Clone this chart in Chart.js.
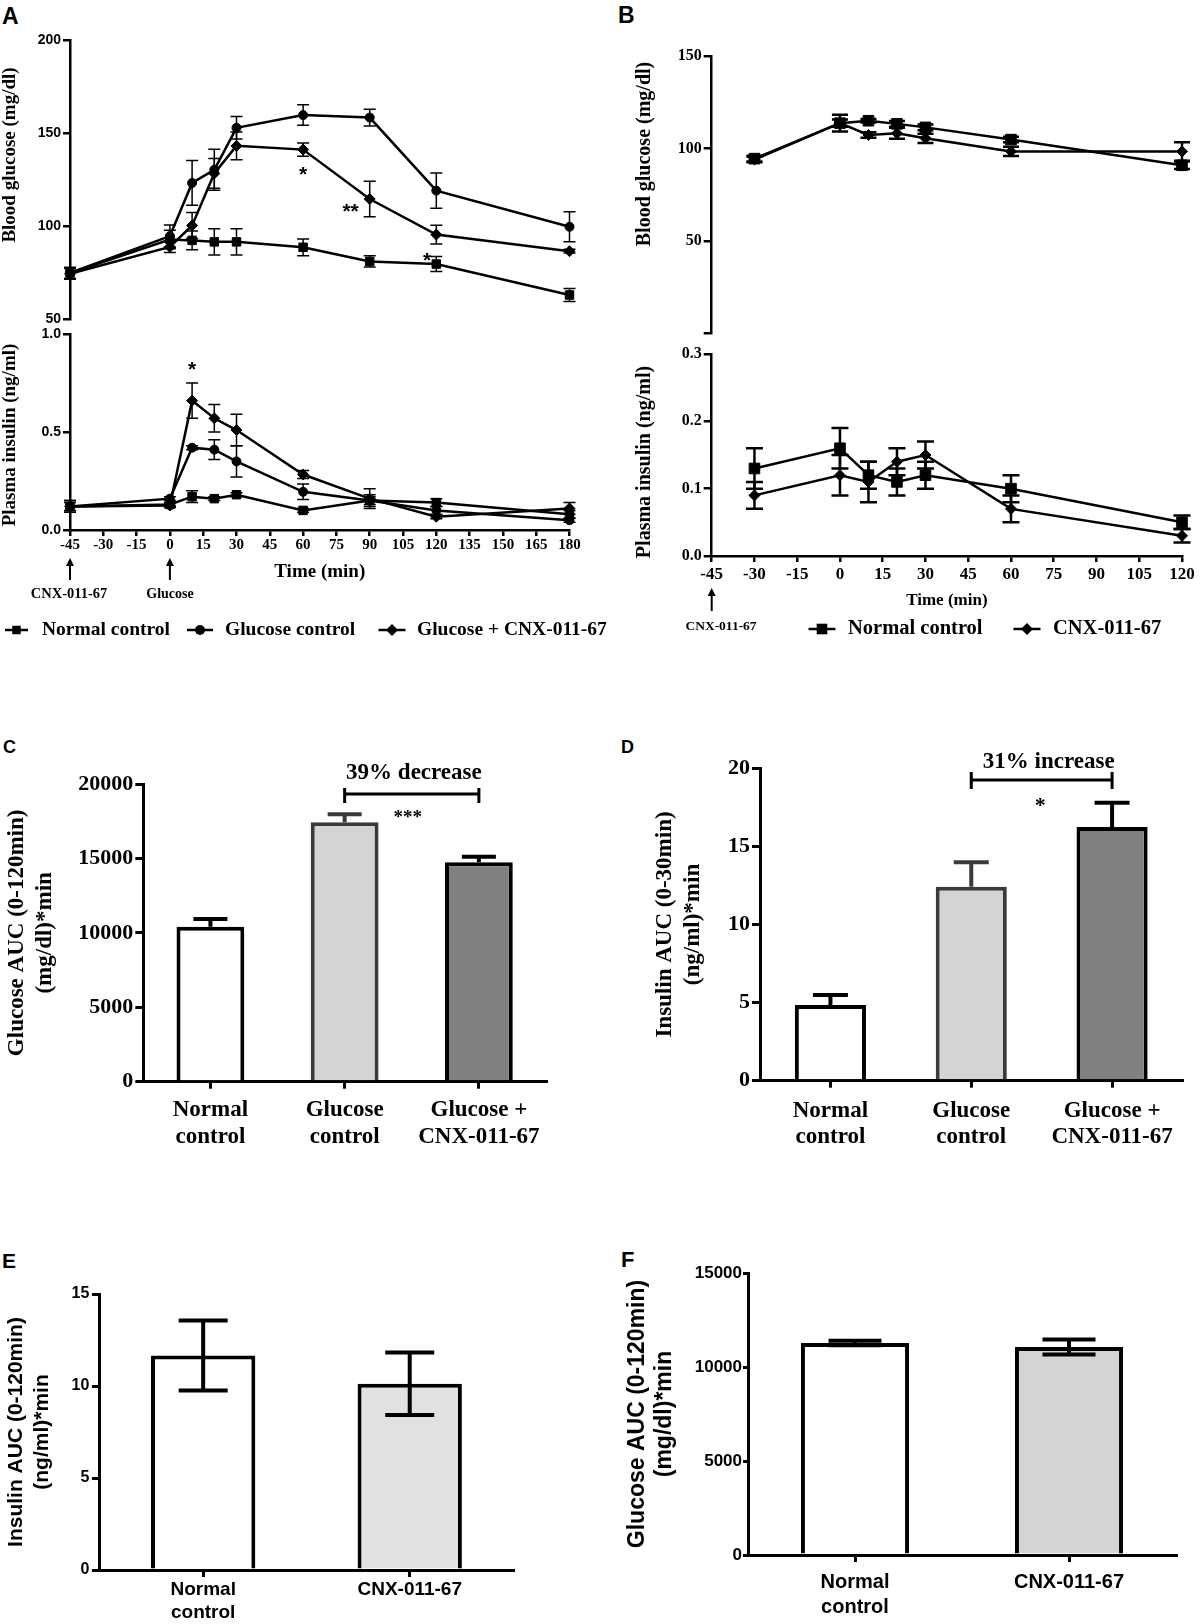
<!DOCTYPE html>
<html>
<head>
<meta charset="utf-8">
<title>CNX-011-67 glucose tolerance</title>
<script src="https://cdn.jsdelivr.net/npm/chart.js@4.4.1/dist/chart.umd.min.js"></script>
<style>
  body { margin: 0; background: #fff; }
  #page { position: relative; width: 1200px; height: 1624px; overflow: hidden; background: #fff; }
  #page canvas { position: absolute; }
  .pl { position: absolute; font-family: "Liberation Sans", Arial, sans-serif; font-weight: bold; line-height: 1; color: #000; }
</style>
</head>
<body>
<div id="page">
  <div class="pl" style="left:2px;top:5px;font-size:23px">A</div>
  <div class="pl" style="left:618px;top:4px;font-size:23px">B</div>
  <div class="pl" style="left:3px;top:738px;font-size:18px">C</div>
  <div class="pl" style="left:621px;top:738px;font-size:18px">D</div>
  <div class="pl" style="left:2px;top:1250px;font-size:21px">E</div>
  <div class="pl" style="left:621px;top:1249px;font-size:22px">F</div>
</div>
<script>
// ---- panel A: glucose challenge, three groups ----
const timesA = [-45, 0, 10, 20, 30, 60, 90, 120, 180];
const gluNormalA = [75, 93, 92.5, 91.7, 91.7, 88.8, 81.2, 79.8, 63.2];
const gluNormalErrA = [3, 5, 5, 7, 7, 4.5, 3, 4, 3.5];
const gluControlA = [75, 94.8, 123.3, 130.4, 152.9, 159.7, 158.4, 119.2, 99.8];
const gluControlErrA = [3, 6, 12, 11, 6, 5.5, 4.5, 9.5, 8];
const gluCnxA = [74.6, 89, 100.5, 128.4, 143.2, 141.2, 114.7, 95.6, 86.7];
const gluCnxErrA = [3, 3, 7, 8, 7.5, 3.5, 9.5, 5, 1];
const insNormalA = [0.12, 0.13, 0.17, 0.16, 0.18, 0.10, 0.15, 0.14, 0.08];
const insNormalErrA = [0.03, 0.01, 0.03, 0.01, 0.01, 0.01, 0.02, 0.02, 0.02];
const insControlA = [0.12, 0.16, 0.42, 0.41, 0.35, 0.195, 0.15, 0.10, 0.05];
const insControlErrA = [0.03, 0.01, 0.01, 0.05, 0.08, 0.04, 0.03, 0.02, 0.01];
const insCnxA = [0.12, 0.125, 0.66, 0.57, 0.51, 0.283, 0.16, 0.068, 0.11];
const insCnxErrA = [0.02, 0.01, 0.09, 0.07, 0.08, 0.02, 0.05, 0.01, 0.03];

// ---- panel B: no glucose load ----
const timesB = [-30, 0, 10, 20, 30, 60, 120];
const gluNormalB = [94.5, 113.7, 115, 113.3, 111.4, 104.8, 90.9];
const gluNormalErrB = [1.5, 2, 1, 1.5, 1.5, 1.5, 2];
const gluCnxB = [94, 113.7, 107.3, 108.2, 105.5, 98.4, 98.4];
const gluCnxErrB = [1.5, 4.5, 1.5, 3, 2.5, 2.5, 5];
const insNormalB = [0.13, 0.16, 0.12, 0.11, 0.12, 0.10, 0.05];
const insNormalErrB = [0.03, 0.03, 0.02, 0.02, 0.02, 0.02, 0.01];
const insCnxB = [0.09, 0.12, 0.11, 0.14, 0.15, 0.07, 0.03];
const insCnxErrB = [0.02, 0.03, 0.03, 0.02, 0.02, 0.02, 0.01];

// ---- panels C-F: AUC bars ----
const groupsCD = [['Normal', 'control'], ['Glucose', 'control'], ['Glucose +', 'CNX-011-67']];
const gluAucC = [10414, 17424, 14736];
const gluAucErrC = [520, 540, 380];
const insAucD = [4.85, 12.42, 16.24];
const insAucErrD = [0.64, 1.56, 1.56];
const groupsEF = [['Normal', 'control'], 'CNX-011-67'];
const insAucE = [11.66, 10.12];
const insAucErrE = [1.9, 1.7];
const gluAucF = [11281, 11068];
const gluAucErrF = [120, 400];

const SERIF = '"Liberation Serif", "Times New Roman", serif';
const SANS = '"Liberation Sans", Arial, sans-serif';

Chart.defaults.animation = false;
Chart.defaults.color = '#000';
Chart.defaults.plugins.legend.display = false;
Chart.defaults.plugins.tooltip.enabled = false;

function addCanvas(left, top, w, h) {
  const c = document.createElement('canvas');
  c.width = w; c.height = h;
  c.style.left = left + 'px';
  c.style.top = top + 'px';
  document.getElementById('page').appendChild(c);
  return c;
}

function marker(ctx, style, x, y, r) {
  ctx.beginPath();
  if (style === 'rect') {
    const s = r * Math.SQRT1_2;
    ctx.rect(x - s, y - s, 2 * s, 2 * s);
  } else if (style === 'rectRot') {
    ctx.moveTo(x, y - r); ctx.lineTo(x + r, y); ctx.lineTo(x, y + r); ctx.lineTo(x - r, y);
    ctx.closePath();
  } else {
    ctx.arc(x, y, r, 0, Math.PI * 2);
  }
  ctx.fill();
}

// error bars read from dataset.errors, drawn through the y scale
const errorBars = {
  id: 'errorBars',
  afterDatasetsDraw(chart) {
    const ctx = chart.ctx, sy = chart.scales.y;
    chart.data.datasets.forEach((ds, di) => {
      if (!ds.errors) return;
      chart.getDatasetMeta(di).data.forEach((el, i) => {
        const raw = ds.data[i];
        const v = typeof raw === 'object' ? raw.y : raw;
        const e = ds.errors[i];
        const yTop = sy.getPixelForValue(v + e);
        const yBot = sy.getPixelForValue(ds.errorMode === 'up' ? v : v - e);
        const cap = ds.errorCap;
        ctx.save();
        ctx.strokeStyle = Array.isArray(ds.errorColor) ? ds.errorColor[i] : (ds.errorColor || '#000');
        ctx.lineWidth = ds.errorWidth;
        ctx.beginPath();
        ctx.moveTo(el.x, yTop); ctx.lineTo(el.x, yBot);
        ctx.moveTo(el.x - cap, yTop); ctx.lineTo(el.x + cap, yTop);
        if (ds.errorMode !== 'up') { ctx.moveTo(el.x - cap, yBot); ctx.lineTo(el.x + cap, yBot); }
        ctx.stroke();
        ctx.restore();
      });
    });
  }
};

// texts, arrows, brackets and legend keys; page coords or data values
function annotations(ox, oy, items) {
  return {
    id: 'annot',
    afterDraw(chart) {
      const ctx = chart.ctx, sx = chart.scales.x, sy = chart.scales.y;
      const px = it => it.xv !== undefined ? sx.getPixelForValue(it.xv) : it.x - ox;
      const py = it => it.yv !== undefined ? sy.getPixelForValue(it.yv) : it.y - oy;
      items.forEach(it => {
        ctx.save();
        ctx.fillStyle = '#000'; ctx.strokeStyle = '#000';
        if (it.t === 'text') {
          ctx.font = it.font;
          ctx.textAlign = it.align || 'center';
          ctx.textBaseline = 'middle';
          ctx.translate(px(it), py(it));
          if (it.rot) ctx.rotate(it.rot);
          ctx.fillText(it.text, 0, 0);
        } else if (it.t === 'star') {
          ctx.font = 'bold ' + it.size + 'px ' + (it.family || SANS);
          ctx.textAlign = 'center'; ctx.textBaseline = 'alphabetic';
          ctx.fillText(it.text, px(it), py(it) + it.size * 0.58);
        } else if (it.t === 'arrow') {
          const x = px(it), y1 = it.y1 - oy, y2 = it.y2 - oy;
          ctx.lineWidth = 2;
          ctx.beginPath(); ctx.moveTo(x, y1 + 5); ctx.lineTo(x, y2); ctx.stroke();
          ctx.beginPath(); ctx.moveTo(x, y1); ctx.lineTo(x - 4, y1 + 8); ctx.lineTo(x + 4, y1 + 8);
          ctx.closePath(); ctx.fill();
        } else if (it.t === 'bracket') {
          const x1 = sx.getPixelForValue(it.xv1), x2 = sx.getPixelForValue(it.xv2), y = sy.getPixelForValue(it.yv);
          ctx.lineWidth = 3;
          ctx.beginPath();
          ctx.moveTo(x1, y); ctx.lineTo(x2, y);
          ctx.moveTo(x1, y - it.up); ctx.lineTo(x1, y + it.down);
          ctx.moveTo(x2, y - it.up); ctx.lineTo(x2, y + it.down);
          ctx.stroke();
        } else if (it.t === 'key') {
          const x = it.x - ox, y = it.y - oy;
          ctx.lineWidth = 2.5;
          ctx.beginPath(); ctx.moveTo(x - it.half, y); ctx.lineTo(x + it.half, y); ctx.stroke();
          marker(ctx, it.style, x, y, it.r);
          ctx.font = it.font; ctx.textAlign = 'left'; ctx.textBaseline = 'middle';
          ctx.fillText(it.text, it.tx - ox, y);
        }
        ctx.restore();
      });
    }
  };
}

function series(xs, ys, errs, style, r, cap, ew) {
  return {
    data: xs.map((x, i) => ({ x: x, y: ys[i] })),
    errors: errs, errorCap: cap, errorWidth: ew,
    borderColor: '#000', backgroundColor: '#000', borderWidth: 2.5,
    pointStyle: style, pointRadius: r, pointBorderWidth: 1,
    pointBackgroundColor: '#000', pointBorderColor: '#000',
    tension: 0, clip: false
  };
}

function valueAxis(o) {
  return {
    type: 'linear', min: o.min, max: o.max,
    afterFit: s => { s.width = o.width; },
    border: { display: true, color: '#000', width: 2.5 },
    grid: { display: true, drawOnChartArea: false, drawTicks: true, tickLength: o.tl, color: '#000', lineWidth: 2.5 },
    ticks: { stepSize: o.step, padding: o.pad, font: o.font, callback: o.cb }
  };
}

function timeAxis(min, max, height, size, pad, titleSize, titlePad) {
  return {
    type: 'linear', min: min, max: max,
    afterFit: s => { s.height = height; },
    border: { display: true, color: '#000', width: 2.5 },
    grid: { display: true, drawOnChartArea: false, tickLength: 6, color: '#000', lineWidth: 2.5 },
    ticks: { stepSize: 15, padding: pad, maxRotation: 0, autoSkip: false,
             font: { family: SERIF, size: size, weight: 'bold' }, callback: v => String(v) },
    title: { display: true, text: 'Time (min)',
             font: { family: SERIF, size: titleSize, weight: 'bold', lineHeight: 1.2 },
             padding: { top: 0, bottom: titlePad } }
  };
}

function lineChart(left, top, w, h, cfg) {
  return new Chart(addCanvas(left, top, w, h), {
    type: 'line',
    data: { datasets: cfg.datasets },
    options: {
      responsive: false,
      layout: { autoPadding: false, padding: cfg.padding },
      scales: { x: cfg.x, y: cfg.y }
    },
    plugins: [errorBars, annotations(left, top, cfg.items)]
  });
}

function barChart(left, top, w, h, cfg) {
  return new Chart(addCanvas(left, top, w, h), {
    type: 'bar',
    data: {
      labels: cfg.labels,
      datasets: [{
        data: cfg.values, errors: cfg.errors, errorMode: cfg.mode, errorCap: cfg.cap,
        errorWidth: 4, errorColor: cfg.borders,
        backgroundColor: cfg.fills, borderColor: cfg.borders, borderWidth: 4,
        borderSkipped: 'bottom', barPercentage: 0.505, categoryPercentage: 1
      }]
    },
    options: {
      responsive: false,
      layout: { autoPadding: false, padding: cfg.padding },
      scales: {
        x: {
          type: 'category', offset: true,
          afterFit: s => { s.height = cfg.xh; },
          border: { display: true, color: '#000', width: 3 },
          grid: { display: true, drawOnChartArea: false, offset: false, tickLength: 7, color: '#000', lineWidth: 3 },
          ticks: { padding: cfg.xpad, maxRotation: 0, autoSkip: false, font: cfg.xfont }
        },
        y: {
          type: 'linear', min: 0, max: cfg.max,
          afterFit: s => { s.width = cfg.yw; },
          border: { display: true, color: '#000', width: 3 },
          grid: { display: true, drawOnChartArea: false, tickLength: cfg.ytl, color: '#000', lineWidth: 3 },
          ticks: { stepSize: cfg.step, padding: cfg.ypad, font: cfg.yfont, callback: v => String(v) },
          title: { display: true, text: cfg.title, font: cfg.tfont, padding: { top: cfg.tpad, bottom: 0 } }
        }
      }
    },
    plugins: [errorBars, annotations(left, top, cfg.items || [])]
  });
}

const tickSans14 = { family: SANS, size: 14, weight: 'bold' };
const tickSerif16 = { family: SERIF, size: 16, weight: 'bold' };

// A, blood glucose
lineChart(0, 0, 640, 330, {
  datasets: [
    series(timesA, gluNormalA, gluNormalErrA, 'rect', 6, 6, 1.5),
    series(timesA, gluControlA, gluControlErrA, 'circle', 4.5, 6, 1.5),
    series(timesA, gluCnxA, gluCnxErrA, 'rectRot', 5.5, 6, 1.5)
  ],
  padding: { left: 0, right: 70.5, top: 40, bottom: 9 },
  x: { type: 'linear', min: -45, max: 180, display: false },
  y: valueAxis({ min: 50, max: 200, step: 50, width: 70, tl: 7, pad: 2, font: tickSans14, cb: v => String(v) }),
  items: [
    { t: 'text', text: 'Blood glucose (mg/dl)', x: 10, y: 155, rot: -Math.PI / 2, font: 'bold 19px ' + SERIF },
    { t: 'star', text: '*', xv: 60, yv: 130.7, size: 21 },
    { t: 'star', text: '**', xv: 81.4, yv: 111.2, size: 21 },
    { t: 'star', text: '*', xv: 115.9, yv: 84.5, size: 21 }
  ]
});

// A, plasma insulin
lineChart(0, 320, 640, 330, {
  datasets: [
    series(timesA, insNormalA, insNormalErrA, 'rect', 6, 6, 1.5),
    series(timesA, insControlA, insControlErrA, 'circle', 4.5, 6, 1.5),
    series(timesA, insCnxA, insCnxErrA, 'rectRot', 5.5, 6, 1.5)
  ],
  padding: { left: 0, right: 70.5, top: 14, bottom: 60 },
  x: timeAxis(-45, 180, 60, 15, 0, 19, 6.6),
  y: valueAxis({ min: 0, max: 1, step: 0.5, width: 70, tl: 7, pad: 2, font: tickSans14, cb: v => v.toFixed(1) }),
  items: [
    { t: 'text', text: 'Plasma insulin (ng/ml)', x: 10, y: 435, rot: -Math.PI / 2, font: 'bold 19px ' + SERIF },
    { t: 'star', text: '*', xv: 10, yv: 0.85, size: 21 },
    { t: 'arrow', xv: -45, y1: 558, y2: 580 },
    { t: 'arrow', xv: 0, y1: 558, y2: 580 },
    { t: 'text', text: 'CNX-011-67', x: 69, y: 594, font: 'bold 14.5px ' + SERIF },
    { t: 'text', text: 'Glucose', x: 170, y: 594, font: 'bold 14px ' + SERIF },
    { t: 'key', x: 16.5, y: 630, half: 11.5, style: 'rect', r: 6, text: 'Normal control', tx: 42, font: 'bold 19.5px ' + SERIF },
    { t: 'key', x: 200, y: 630, half: 13, style: 'circle', r: 5, text: 'Glucose control', tx: 225, font: 'bold 19.5px ' + SERIF },
    { t: 'key', x: 392, y: 630, half: 13.5, style: 'rectRot', r: 6, text: 'Glucose + CNX-011-67', tx: 417, font: 'bold 19.5px ' + SERIF }
  ]
});

// B, blood glucose
lineChart(600, 0, 600, 345, {
  datasets: [
    series(timesB, gluNormalB, gluNormalErrB, 'rect', 7.5, 8, 2.5),
    series(timesB, gluCnxB, gluCnxErrB, 'rectRot', 5.5, 8, 2.5)
  ],
  padding: { left: 0, right: 18, top: 56, bottom: 9 },
  x: { type: 'linear', min: -45, max: 120, display: false },
  y: valueAxis({ min: 0, max: 150, step: 50, width: 111.7, tl: 8, pad: 2, font: tickSerif16, cb: v => v === 0 ? '' : String(v) }),
  items: [
    { t: 'text', text: 'Blood glucose (mg/dl)', x: 645, y: 154, rot: -Math.PI / 2, font: 'bold 20px ' + SERIF }
  ]
});

// B, plasma insulin
lineChart(600, 340, 600, 310, {
  datasets: [
    series(timesB, insNormalB, insNormalErrB, 'rect', 7.5, 8.5, 2.5),
    series(timesB, insCnxB, insCnxErrB, 'rectRot', 5.5, 8.5, 2.5)
  ],
  padding: { left: 0, right: 18, top: 14, bottom: 38 },
  x: timeAxis(-45, 120, 56, 17, 2.8, 17, 0.8),
  y: valueAxis({ min: 0, max: 0.3, step: 0.1, width: 111.7, tl: 8, pad: 2, font: tickSerif16, cb: v => v.toFixed(1) }),
  items: [
    { t: 'text', text: 'Plasma insulin (ng/ml)', x: 645, y: 462, rot: -Math.PI / 2, font: 'bold 20px ' + SERIF },
    { t: 'arrow', xv: -45, y1: 588, y2: 611 },
    { t: 'text', text: 'CNX-011-67', x: 721, y: 627, font: 'bold 13.5px ' + SERIF },
    { t: 'key', x: 822, y: 629, half: 13.5, style: 'rect', r: 7.5, text: 'Normal control', tx: 848, font: 'bold 20.5px ' + SERIF },
    { t: 'key', x: 1027, y: 629, half: 13.5, style: 'rectRot', r: 6, text: 'CNX-011-67', tx: 1053, font: 'bold 20.5px ' + SERIF }
  ]
});

// C, glucose AUC
barChart(0, 720, 600, 440, {
  labels: groupsCD, values: gluAucC, errors: gluAucErrC, mode: 'up', cap: 17,
  fills: ['#ffffff', '#d4d4d4', '#808080'], borders: ['#000000', '#3a3a3a', '#000000'],
  padding: { left: 0, right: 54, top: 64, bottom: 0 },
  yw: 143.3, xh: 78.3, max: 20000, step: 5000, ytl: 8, ypad: 2,
  yfont: { family: SERIF, size: 22, weight: 'bold' },
  xfont: { family: SERIF, size: 23, weight: 'bold', lineHeight: 1.17 }, xpad: 7.8,
  title: ['Glucose AUC (0-120min)', '(mg/dl)*min'],
  tfont: { family: SERIF, size: 23, weight: 'bold', lineHeight: 1.217 }, tpad: 3,
  items: [
    { t: 'bracket', xv1: 1, xv2: 2, yv: 19328, up: 6, down: 9 },
    { t: 'text', text: '39% decrease', xv: 1.516, yv: 20739, font: 'bold 23px ' + SERIF },
    { t: 'star', text: '***', xv: 1.47, yv: 18119, size: 19, family: SERIF }
  ]
});

// D, insulin AUC 0-30
barChart(600, 720, 600, 440, {
  labels: groupsCD, values: insAucD, errors: insAucErrD, mode: 'up', cap: 17.5,
  fills: ['#ffffff', '#d4d4d4', '#808080'], borders: ['#000000', '#3a3a3a', '#000000'],
  padding: { left: 0, right: 17.5, top: 48.3, bottom: 0 },
  yw: 160, xh: 79.3, max: 20, step: 5, ytl: 8, ypad: 2,
  yfont: { family: SERIF, size: 22, weight: 'bold' },
  xfont: { family: SERIF, size: 23, weight: 'bold', lineHeight: 1.13 }, xpad: 10.3,
  title: ['Insulin AUC (0-30min)', '(ng/ml)*min'],
  tfont: { family: SERIF, size: 23, weight: 'bold', lineHeight: 1.217 }, tpad: 51,
  items: [
    { t: 'bracket', xv1: 1, xv2: 2, yv: 19.25, up: 8, down: 9 },
    { t: 'text', text: '31% increase', xv: 1.55, yv: 20.4, font: 'bold 23px ' + SERIF },
    { t: 'star', text: '*', xv: 1.49, yv: 18.03, size: 22, family: SERIF }
  ]
});

// E, insulin AUC 0-120
barChart(0, 1180, 600, 444, {
  labels: groupsEF, values: insAucE, errors: insAucErrE, mode: 'both', cap: 24.5,
  fills: ['#ffffff', '#e1e1e1'], borders: ['#000000', '#000000'],
  padding: { left: 0, right: 87, top: 114, bottom: 0 },
  yw: 99.9, xh: 54, max: 15, step: 5, ytl: 8, ypad: 2.5,
  yfont: { family: SANS, size: 16, weight: 'bold' },
  xfont: { family: SANS, size: 19, weight: 'bold', lineHeight: 1.21 }, xpad: 1.5,
  title: ['Insulin AUC (0-120min)', '(ng/ml)*min'],
  tfont: { family: SANS, size: 21, weight: 'bold', lineHeight: 1.24 }, tpad: 3.6
});

// F, glucose AUC 0-120
barChart(600, 1180, 600, 444, {
  labels: groupsEF, values: gluAucF, errors: gluAucErrF, mode: 'both', cap: 26.5,
  fills: ['#ffffff', '#d4d4d4'], borders: ['#000000', '#000000'],
  padding: { left: 0, right: 24, top: 93, bottom: 0 },
  yw: 148, xh: 69, max: 15000, step: 5000, ytl: 5, ypad: 1,
  yfont: { family: SANS, size: 17, weight: 'bold' },
  xfont: { family: SANS, size: 20, weight: 'bold', lineHeight: 1.25 }, xpad: 7.5,
  title: ['Glucose AUC (0-120min)', '(mg/dl)*min'],
  tfont: { family: SANS, size: 23, weight: 'bold', lineHeight: 1.17 }, tpad: 24.5
});
</script>
</body>
</html>
